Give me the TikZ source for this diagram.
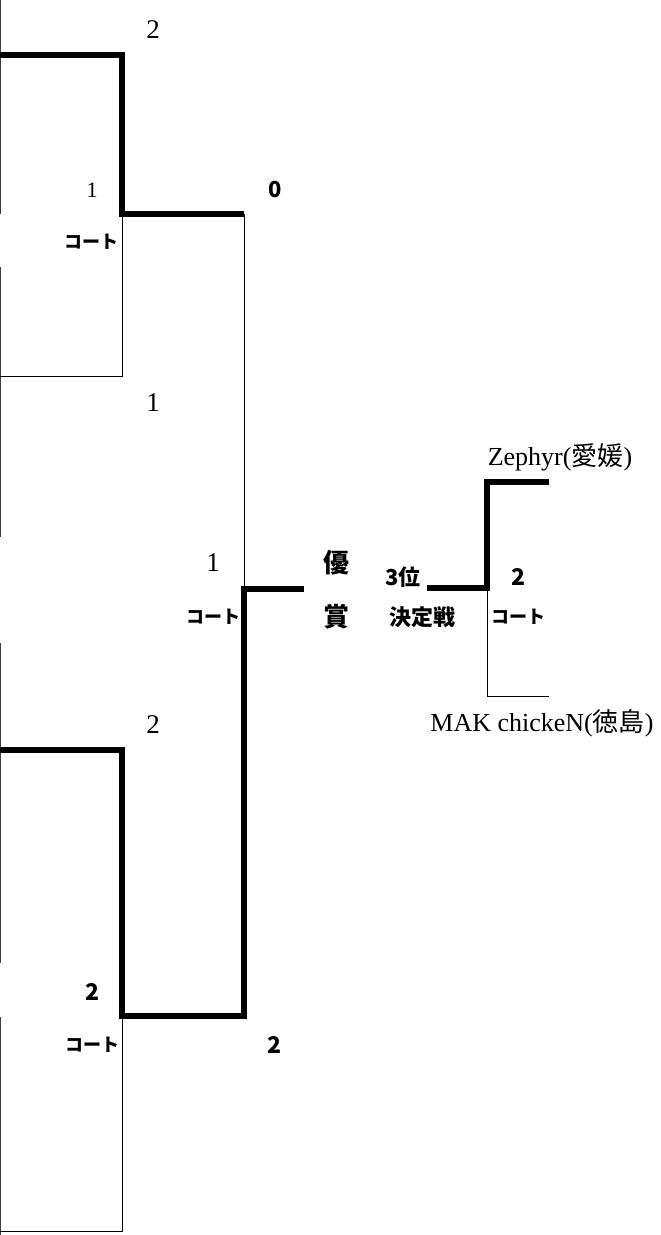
\documentclass[tikz,border=0pt]{standalone}
\usepackage{fontspec}
\usepackage{tikz}
\setmainfont{Liberation Serif}
\newfontfamily\jpGothic{Noto Sans CJK JP}
\newcommand{\teamSize}[0]{\fontsize{26}{28}\selectfont}
\newcommand{\courtSize}[0]{\fontsize{18}{20}\selectfont}

\begin{document}
\begin{tikzpicture}[x=1pt, y=-1pt]
  \tikzset{
    winLine/.style={line width=5.5pt, line join=miter},
    loseLine/.style={line width=1pt},
    edgeLine/.style={line width=1pt, black!75},
    scoreSerif/.style={font=\fontsize{27}{29}\selectfont, inner sep=0pt},
    scoreSmall/.style={font=\fontsize{22}{24}\selectfont, inner sep=0pt},
    scoreBold/.style={font=\jpGothic\bfseries\fontsize{23}{25}\selectfont, inner sep=0pt},
    scoreSans/.style={font=\jpGothic\bfseries\fontsize{22}{24}\selectfont, inner sep=0pt},
    court/.style={font=\jpGothic\bfseries\courtSize, inner sep=0pt},
    title/.style={font=\jpGothic\bfseries\fontsize{26}{28}\selectfont, inner sep=0pt},
    third/.style={font=\jpGothic\bfseries\fontsize{22}{24}\selectfont, inner sep=0pt},
    team/.style={font=\teamSize, inner sep=0pt}
  }
  \useasboundingbox (0,0) rectangle (661,1235);
  % left cell borders
  \draw[edgeLine] (0.5,0) -- (0.5,214);
  \draw[edgeLine] (0.5,267) -- (0.5,537);
  \draw[edgeLine] (0.5,643) -- (0.5,963);
  \draw[edgeLine] (0.5,1017) -- (0.5,1235);
  % first half
  \coordinate (A-1-1) at (0,55);
  \coordinate (A-1-2) at (0,376);
  \coordinate (A-1-3) at (122,55);
  \coordinate (A-1-4) at (122,214);
  \coordinate (A-1-5) at (122,376);
  \coordinate (A-1-6) at (244,214);
  % second half
  \coordinate (A-2-1) at (0,750);
  \coordinate (A-2-2) at (0,1231);
  \coordinate (A-2-3) at (122,750);
  \coordinate (A-2-4) at (122,1016);
  \coordinate (A-2-5) at (122,1231);
  \coordinate (A-2-6) at (244,1016);
  % final
  \coordinate (F-1) at (244,589);
  \coordinate (F-2) at (304,589);
  % third place
  \coordinate (T-1) at (427,588);
  \coordinate (T-2) at (487,588);
  \coordinate (T-3) at (487,482);
  \coordinate (T-4) at (549,482);
  \coordinate (T-5) at (487,696);
  \coordinate (T-6) at (549,696);

  \draw[winLine] (A-1-1) -- (A-1-3) -- (A-1-4) -- (A-1-6);
  \draw[loseLine] (A-1-4) -- (A-1-5) -- (A-1-2);
  \draw[loseLine] (A-1-6) -- (F-1);
  \draw[winLine] (F-2) -- (F-1) -- (A-2-6) -- (A-2-4) -- (A-2-3) -- (A-2-1);
  \draw[loseLine] (A-2-4) -- (A-2-5) -- (A-2-2);
  \draw[winLine] (T-1) -- (T-2) -- (T-3) -- (T-4);
  \draw[loseLine] (T-2) -- (T-5) -- (T-6);

  \node[scoreSerif] (S-1-1) at (153,30) {2};
  \node[scoreSmall] (S-1-2) at (92,190) {1};
  \node[scoreSans] (S-1-3) at (275,190) {0};
  \node[court] (C-1) at (91,242) {コート};
  \node[scoreSerif] (S-1-4) at (153,403) {1};
  \node[scoreSerif] (S-2-1) at (213,563) {1};
  \node[court] (C-2) at (213,617) {コート};
  \node[title] (W-1) at (336,563) {優};
  \node[title] (W-2) at (336,617) {賞};
  \node[third] (P-1) at (403,577) {3位};
  \node[third] (P-2) at (422,617) {決定戦};
  \node[scoreBold] (S-3-1) at (518,577) {2};
  \node[court] (C-3) at (518,617) {コート};
  \node[team] (N-1) at (560,457) {Zephyr({\jpGothic 愛媛})};
  \node[team] (N-2) at (542,723) {MAK chickeN({\jpGothic 徳島})};
  \node[scoreSerif] (S-4-1) at (153,725) {2};
  \node[scoreBold] (S-4-2) at (93,992) {2};
  \node[court] (C-4) at (92,1045) {コート};
  \node[scoreBold] (S-4-3) at (275,1045) {2};
\end{tikzpicture}
\end{document}
